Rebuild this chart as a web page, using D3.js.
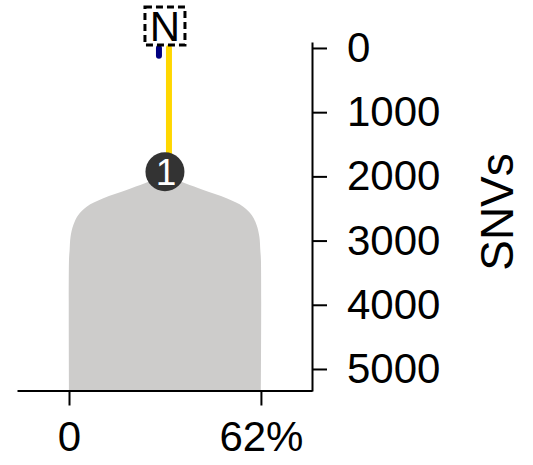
<!DOCTYPE html>
<html>
<head>
<meta charset="utf-8">
<script src="https://cdn.jsdelivr.net/npm/d3@7"></script>
<style>
  html, body { margin: 0; padding: 0; background: #fff; }
  svg { display: block; font-family: "Liberation Sans", Arial, sans-serif; }
</style>
</head>
<body>
<svg id="chart" width="533" height="465"></svg>
<script>
// ---- data ----
const xTickValues = [0, 62];
const xTickLabels = ["0", "62%"];
const yTickValues = [0, 1000, 2000, 3000, 4000, 5000];
const yAxisTitle = "SNVs";

// sample cell-fraction shape (percent, SNVs) outline
const shapePct  = [0, 0, 0.2, 0.5, 1.4, 3.0, 5.7, 11.1, 18.6, 24.5, 31, 37.5, 43.4, 50.9, 56.3, 59.0, 60.6, 61.5, 61.8, 62, 62];
const shapeSNVs = [5330, 3300, 3146, 2939, 2757, 2601, 2472, 2341, 2212, 2107, 1990, 2107, 2212, 2341, 2472, 2601, 2757, 2939, 3146, 3300, 5330];

// branches
const branchNames = ["N", "1"];
const branchStart = [0, 0];
const branchEnd   = [120, 1927];
const branchColors = ["#000080", "#FFD700"];
const branchPct = 31;

// nodes
const nodeLabels = ["1"];
const nodeSNVs = [1927];
const nodePct = [31];
const rootLabel = "N";

// ---- scales ----
const svg = d3.select("#chart");
const x = d3.scaleLinear().domain([-16.8, 78.5]).range([17, 312]);
const y = d3.scaleLinear().domain([-93, 5343]).range([42, 391]);

// shape
const pts = shapePct.map((p, i) => [p, shapeSNVs[i]]);
svg.append("path")
  .attr("d", d3.line().x(d => x(d[0])).y(d => y(d[1])).curve(d3.curveCatmullRom.alpha(0.5))(pts) + "Z")
  .attr("fill", "#cdcccb");

// branches
const offsets = [-6, 4];
branchNames.forEach((b, i) => {
  svg.append("line")
    .attr("x1", x(branchPct) + offsets[i]).attr("x2", x(branchPct) + offsets[i])
    .attr("y1", y(branchStart[i])).attr("y2", y(branchEnd[i]))
    .attr("stroke", branchColors[i]).attr("stroke-width", 6)
    .attr("stroke-linecap", "round");
});
// reorder: navy above yellow drawn second? keep navy on top
svg.selectAll("line").filter((d, i) => i === 0).raise();

// nodes
nodeLabels.forEach((lab, i) => {
  const g = svg.append("g").attr("transform", `translate(${x(nodePct[i])},${y(nodeSNVs[i])})`);
  g.append("circle").attr("r", 19.5).attr("fill", "#333333");
  g.append("text").text(lab).attr("text-anchor", "middle").attr("dy", "0.36em")
    .attr("x", 1).attr("font-size", 37).attr("fill", "#fff");
});

// root label box
const rx = x(branchPct), ry = y(0);
svg.append("rect").attr("x", rx - 20).attr("y", ry - 41).attr("width", 40).attr("height", 38)
  .attr("fill", "none").attr("stroke", "#000").attr("stroke-width", 3)
  .attr("stroke-dasharray", "7,4");
svg.append("text").text(rootLabel).attr("x", rx).attr("y", ry - 22).attr("dy", "0.36em")
  .attr("text-anchor", "middle").attr("font-size", 42).attr("fill", "#000");

// x axis
const xAxis = d3.axisBottom(x).tickValues(xTickValues)
  .tickFormat((d, i) => xTickLabels[i]).tickSize(15).tickSizeOuter(0).tickPadding(16);
const gx = svg.append("g").attr("transform", `translate(0,${y(5343) - 0.5})`).call(xAxis);
gx.select(".domain").attr("stroke-width", 2);
gx.selectAll(".tick line").attr("stroke-width", 2);
gx.selectAll(".tick text").attr("font-size", 42).attr("font-family", "Liberation Sans, Arial, sans-serif").attr("fill", "#000");

// y axis (right)
const yAxis = d3.axisRight(y).tickValues(yTickValues).tickSize(15).tickSizeOuter(0).tickPadding(20)
  .tickFormat(d3.format("d"));
const gy = svg.append("g").attr("transform", `translate(312,0)`).call(yAxis);
gy.select(".domain").attr("stroke-width", 2);
gy.selectAll(".tick line").attr("stroke-width", 2);
gy.selectAll(".tick text").attr("font-size", 42).attr("font-family", "Liberation Sans, Arial, sans-serif").attr("fill", "#000");

// y title
svg.append("text").text(yAxisTitle)
  .attr("transform", "translate(513,212) rotate(-90)")
  .attr("text-anchor", "middle").attr("font-size", 46).attr("fill", "#000");
</script>
</body>
</html>
